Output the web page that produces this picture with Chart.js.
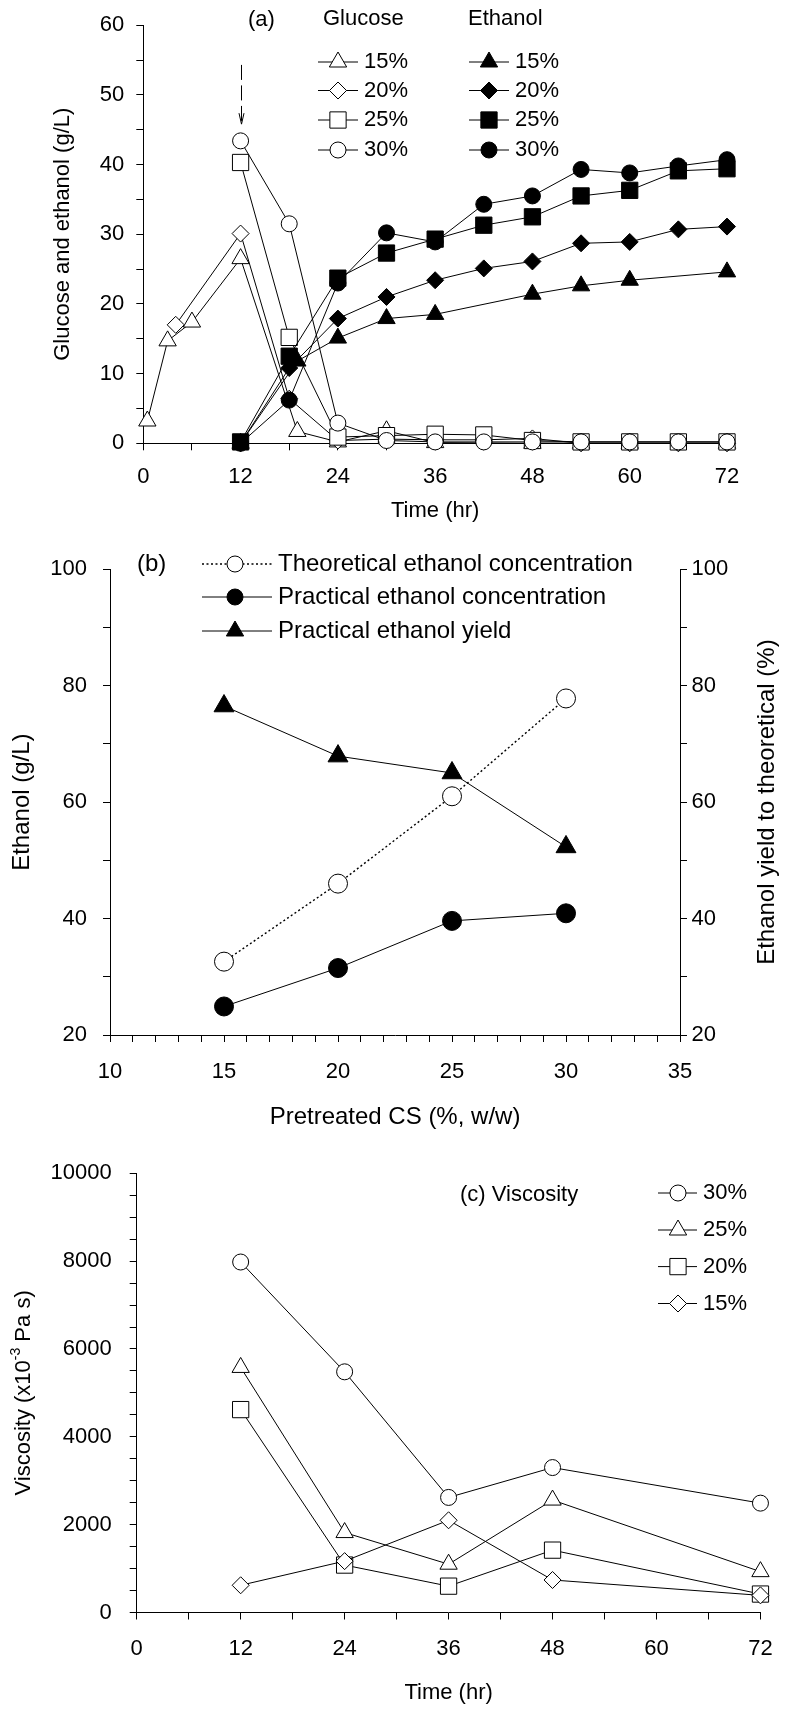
<!DOCTYPE html>
<html>
<head>
<meta charset="utf-8">
<title>SSF of pretreated CS: glucose, ethanol, viscosity</title>
<script src="https://cdn.jsdelivr.net/npm/chart.js"></script>
<style>
  html, body { margin: 0; padding: 0; background: #fff; }
  #page { position: relative; width: 789px; height: 1711px; }
  canvas { position: absolute; left: 0; }
</style>
</head>
<body>
<div id="page">
  <canvas id="panelA" width="789" height="540" style="top:0px"></canvas>
  <canvas id="panelB" width="789" height="600" style="top:540px"></canvas>
  <canvas id="panelC" width="789" height="571" style="top:1140px"></canvas>
</div>
<script>
// (a) glucose and ethanol vs time, per solids loading
const glucoseTime15 = [0.5, 3, 6, 12, 19, 24, 30, 36, 48, 54, 60, 72];
const glucose15 = [3.2, 14.7, 17.4, 26.5, 1.7, 0.2, 1.8, 0.1, 0, 0, 0, 0];
const glucoseTime20 = [4, 12, 18, 24, 30, 36, 42, 48, 54, 60, 66, 72];
const glucose20 = [17.0, 30.1, 6.4, 0.4, 0.6, 0.5, 0.5, 0.7, 0, 0, 0, 0];
const glucoseTime = [12, 18, 24, 30, 36, 42, 48, 54, 60, 66, 72];
const glucose25 = [40.3, 15.2, 0.9, 1.1, 1.3, 1.2, 0.4, 0.2, 0.2, 0.2, 0.2];
const glucose30 = [43.4, 31.5, 2.9, 0.4, 0.2, 0.2, 0.2, 0.2, 0.2, 0.2, 0.2];

const ethanolTime15 = [12, 19, 24, 30, 36, 48, 54, 60, 72];
const ethanol15 = [0, 11.8, 15.1, 17.9, 18.5, 21.4, 22.6, 23.4, 24.6];
const ethanolTime = [12, 18, 24, 30, 36, 42, 48, 54, 60, 66, 72];
const ethanol20 = [0, 10.8, 17.9, 21.0, 23.4, 25.1, 26.1, 28.7, 28.9, 30.7, 31.1];
const ethanol25 = [0.2, 12.5, 23.7, 27.3, 29.3, 31.3, 32.5, 35.5, 36.3, 39.1, 39.4];
const ethanol30 = [0, 6.2, 23.0, 30.2, 28.9, 34.3, 35.5, 39.3, 38.8, 39.8, 40.7];

const loadingLabels = ['15%', '20%', '25%', '30%'];

// (b) ethanol vs solids loading
const csLoading = [15, 20, 25, 30];
const theoreticalEthanol = [32.6, 46.0, 61.0, 77.8];
const practicalEthanol = [24.9, 31.5, 39.6, 40.9];
const ethanolYield = [76.5, 67.9, 65.0, 52.3];
const seriesLabelsB = ['Theoretical ethanol concentration', 'Practical ethanol concentration', 'Practical ethanol yield'];

// (c) viscosity vs time
const viscTime = [12, 24, 36, 48, 72];
const visc30 = [7980, 5480, 2620, 3300, 2490];
const visc25 = [5580, 1820, 1100, 2560, 930];
const visc20 = [4620, 1080, 600, 1420, 420];
const visc15 = [620, 1170, 2100, 740, 390];
const viscLabels = ['30%', '25%', '20%', '15%'];

const FONT = "'Liberation Sans', Arial, sans-serif";
Chart.defaults.font.family = FONT;
Chart.defaults.color = '#000';

const toPoints = (xs, ys) => xs.map((x, i) => ({x: x, y: ys[i]}));

// marker sizes per shape, close to the printed symbols
const SIZE = {triangle: 10, rectRot: 8.5, rect: 11.5, circle: 8};

function series(label, xs, ys, shape, filled, extra) {
  return Object.assign({
    label: label,
    data: toPoints(xs, ys),
    showLine: true,
    borderColor: '#000',
    borderWidth: 1,
    pointStyle: shape,
    pointRadius: SIZE[shape],
    pointHoverRadius: SIZE[shape],
    pointBorderColor: '#000',
    pointBorderWidth: 1,
    pointBackgroundColor: filled ? '#000' : '#fff',
    clip: false
  }, extra || {});
}

// later datasets drawn on top
function stack(list) {
  list.forEach((d, i) => { d.order = list.length - i; });
  return list;
}

function axis(o) {
  const horizontal = o.position === 'bottom';
  return {
    type: 'linear',
    position: o.position,
    min: o.min,
    max: o.max,
    ticks: {
      stepSize: o.step,
      autoSkip: false,
      maxRotation: 0,
      color: '#000',
      font: {family: FONT, size: o.tickSize},
      padding: o.pad,
      callback: v => (Math.abs(v % o.major) < 1e-9 ? v : '')
    },
    grid: {drawOnChartArea: false, drawTicks: true, tickLength: 7, color: '#000', lineWidth: 1},
    border: {display: true, color: '#000', width: 1},
    title: o.title ? {
      display: true,
      text: o.title,
      color: '#000',
      font: {family: FONT, size: o.titleSize},
      padding: o.titlePad
    } : {display: false},
    afterFit: s => {
      if (horizontal) { s.height = o.box; } else { s.width = o.box; }
    }
  };
}

function drawMark(ctx, shape, x, y, r, fill) {
  ctx.beginPath();
  if (shape === 'circle') {
    ctx.arc(x, y, r, 0, Math.PI * 2);
  } else if (shape === 'triangle') {
    ctx.moveTo(x, y - r);
    ctx.lineTo(x + r * 0.866, y + r * 0.5);
    ctx.lineTo(x - r * 0.866, y + r * 0.5);
  } else if (shape === 'rect') {
    const s = r * Math.SQRT1_2;
    ctx.rect(x - s, y - s, 2 * s, 2 * s);
  } else if (shape === 'rectRot') {
    ctx.moveTo(x, y - r);
    ctx.lineTo(x + r, y);
    ctx.lineTo(x, y + r);
    ctx.lineTo(x - r, y);
  }
  ctx.closePath();
  ctx.fillStyle = fill;
  ctx.fill();
  ctx.strokeStyle = '#000';
  ctx.lineWidth = 1;
  ctx.stroke();
}

function text(ctx, str, x, y, size, align) {
  ctx.save();
  ctx.font = size + 'px ' + FONT;
  ctx.fillStyle = '#000';
  ctx.textAlign = align || 'left';
  ctx.textBaseline = 'middle';
  ctx.fillText(str, x, y);
  ctx.restore();
}

function keyRow(ctx, ds, x0, x1, xm, y, str, size, r) {
  ctx.save();
  ctx.strokeStyle = '#000';
  ctx.lineWidth = ds.borderWidth || 1;
  ctx.setLineDash(ds.borderDash || []);
  ctx.beginPath();
  ctx.moveTo(x0, y);
  ctx.lineTo(x1, y);
  ctx.stroke();
  ctx.setLineDash([]);
  drawMark(ctx, ds.pointStyle, xm, y, r || ds.pointRadius, ds.pointBackgroundColor);
  ctx.restore();
  text(ctx, str, x1 + 6, y, size);
}

// ---------- (a) ----------
const dataA = stack([
  series('Glucose 15%', glucoseTime15, glucose15, 'triangle', false),
  series('Glucose 20%', glucoseTime20, glucose20, 'rectRot', false),
  series('Glucose 25%', glucoseTime, glucose25, 'rect', false),
  series('Glucose 30%', glucoseTime, glucose30, 'circle', false),
  series('Ethanol 15%', ethanolTime15, ethanol15, 'triangle', true),
  series('Ethanol 20%', ethanolTime, ethanol20, 'rectRot', true),
  series('Ethanol 25%', ethanolTime, ethanol25, 'rect', true),
  series('Ethanol 30%', ethanolTime, ethanol30, 'circle', true)
]);

// feeding time marked by the dashed arrow
const feedTime = 12;
const feedArrow = [54.3, 45.8];

const overlayA = {
  id: 'overlayA',
  afterDraw(chart) {
    const ctx = chart.ctx;
    const xs = chart.scales.x, ys = chart.scales.y;
    const ax = Math.round(xs.getPixelForValue(feedTime)) + 0.5;
    const y0 = ys.getPixelForValue(feedArrow[0]);
    const y1 = ys.getPixelForValue(feedArrow[1]);
    ctx.save();
    ctx.strokeStyle = '#000';
    ctx.lineWidth = 1;
    ctx.setLineDash([15, 5.5]);
    ctx.beginPath();
    ctx.moveTo(ax, y0);
    ctx.lineTo(ax, y1 - 2);
    ctx.stroke();
    ctx.setLineDash([]);
    ctx.beginPath();
    ctx.moveTo(ax - 2.5, y1 - 11);
    ctx.lineTo(ax, y1);
    ctx.lineTo(ax + 2.5, y1 - 11);
    ctx.stroke();
    ctx.restore();

    text(ctx, '(a)', 248, 20, 22);
    text(ctx, 'Glucose', 323, 19, 22);
    text(ctx, 'Ethanol', 468, 19, 22);
    const rows = [62, 90.5, 120, 150];
    for (let i = 0; i < 4; i++) {
      keyRow(ctx, dataA[i], 318, 358, 338, rows[i], loadingLabels[i], 22);
      keyRow(ctx, dataA[i + 4], 469, 509, 489, rows[i], loadingLabels[i], 22);
    }
  }
};

new Chart(document.getElementById('panelA'), {
  type: 'scatter',
  data: {datasets: dataA},
  options: {
    responsive: false,
    animation: false,
    devicePixelRatio: 1,
    layout: {padding: {left: 0, top: 20, right: 62, bottom: 0}},
    plugins: {legend: {display: false}, tooltip: {enabled: false}},
    scales: {
      x: axis({position: 'bottom', min: 0, max: 72, step: 6, major: 12, tickSize: 22, pad: 13,
               title: 'Time (hr)', titleSize: 22, titlePad: {top: 0, bottom: 16}, box: 96.7}),
      y: axis({position: 'left', min: 0, max: 60, step: 5, major: 10, tickSize: 22, pad: 12,
               title: 'Glucose and ethanol (g/L)', titleSize: 22, titlePad: {top: 50, bottom: 0}, box: 143.3})
    }
  },
  plugins: [overlayA]
});

// ---------- (b) ----------
const dataB = stack([
  series(seriesLabelsB[0], csLoading, theoreticalEthanol, 'circle', false,
         {borderDash: [2, 2.5], borderWidth: 1.4, pointRadius: 9.5, pointHoverRadius: 9.5, yAxisID: 'y'}),
  series(seriesLabelsB[1], csLoading, practicalEthanol, 'circle', true,
         {pointRadius: 9.5, pointHoverRadius: 9.5, yAxisID: 'y'}),
  series(seriesLabelsB[2], csLoading, ethanolYield, 'triangle', true,
         {pointRadius: 11.5, pointHoverRadius: 11.5, yAxisID: 'y2'})
]);
const keySizeB = [8, 8, 10];

const overlayB = {
  id: 'overlayB',
  afterDraw(chart) {
    const ctx = chart.ctx;
    const area = chart.chartArea;
    text(ctx, '(b)', 137, 24, 24);
    const rows = [24, 57, 91];
    for (let i = 0; i < 3; i++) {
      keyRow(ctx, dataB[i], 202, 272, 235, rows[i], seriesLabelsB[i], 24, keySizeB[i]);
    }
    ctx.save();
    ctx.translate(767, (area.top + area.bottom) / 2);
    ctx.rotate(-Math.PI / 2);
    text(ctx, 'Ethanol yield to theoretical (%)', 0, 0, 24, 'center');
    ctx.restore();
  }
};

new Chart(document.getElementById('panelB'), {
  type: 'scatter',
  data: {datasets: dataB},
  options: {
    responsive: false,
    animation: false,
    devicePixelRatio: 1,
    layout: {padding: {left: 0, top: 26, right: 0, bottom: 0}},
    plugins: {legend: {display: false}, tooltip: {enabled: false}},
    scales: {
      x: axis({position: 'bottom', min: 10, max: 35, step: 1, major: 5, tickSize: 22, pad: 16.5,
               title: 'Pretreated CS (%, w/w)', titleSize: 24, titlePad: {top: 0, bottom: 8.6}, box: 105}),
      y: axis({position: 'left', min: 20, max: 100, step: 10, major: 20, tickSize: 22, pad: 16,
               title: 'Ethanol (g/L)', titleSize: 24, titlePad: {top: 8, bottom: 0}, box: 110}),
      y2: axis({position: 'right', min: 20, max: 100, step: 10, major: 20, tickSize: 22, pad: 4.6, box: 109})
    }
  },
  plugins: [overlayB]
});

// ---------- (c) ----------
const dataC = stack([
  series(viscLabels[0], viscTime, visc30, 'circle', false),
  series(viscLabels[1], viscTime, visc25, 'triangle', false),
  series(viscLabels[2], viscTime, visc20, 'rect', false),
  series(viscLabels[3], viscTime, visc15, 'rectRot', false)
]);

const overlayC = {
  id: 'overlayC',
  afterDraw(chart) {
    const ctx = chart.ctx;
    const area = chart.chartArea;
    text(ctx, '(c) Viscosity', 460, 55, 22);
    const rows = [53, 90, 126.6, 163.5];
    for (let i = 0; i < 4; i++) {
      keyRow(ctx, dataC[i], 658, 697, 678, rows[i], viscLabels[i], 22);
    }
    // y title with superscript exponent
    const parts = [['Viscosity (x10', 22, 0], ['-3', 14, -8], [' Pa s)', 22, 0]];
    ctx.save();
    ctx.translate(24, (area.top + area.bottom) / 2);
    ctx.rotate(-Math.PI / 2);
    let total = 0;
    parts.forEach(p => { ctx.font = p[1] + 'px ' + FONT; total += ctx.measureText(p[0]).width; });
    let x = -total / 2;
    parts.forEach(p => {
      ctx.font = p[1] + 'px ' + FONT;
      ctx.fillStyle = '#000';
      ctx.textBaseline = 'middle';
      ctx.textAlign = 'left';
      ctx.fillText(p[0], x, p[2]);
      x += ctx.measureText(p[0]).width;
    });
    ctx.restore();
  }
};

new Chart(document.getElementById('panelC'), {
  type: 'scatter',
  data: {datasets: dataC},
  options: {
    responsive: false,
    animation: false,
    devicePixelRatio: 1,
    layout: {padding: {left: 0, top: 33.3, right: 14, bottom: 0}},
    plugins: {legend: {display: false}, tooltip: {enabled: false}},
    scales: {
      x: axis({position: 'bottom', min: 0, max: 72, step: 6, major: 12, tickSize: 22, pad: 16.3,
               title: 'Time (hr)', titleSize: 22, titlePad: {top: 0, bottom: 4.8}, box: 98.5}),
      y: axis({position: 'left', min: 0, max: 10000, step: 500, major: 2000, tickSize: 22, pad: 18, box: 136.7})
    }
  },
  plugins: [overlayC]
});
</script>
</body>
</html>
